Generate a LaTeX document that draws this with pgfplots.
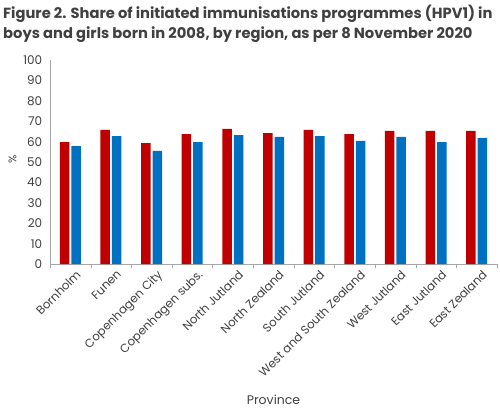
\documentclass[border=0pt]{standalone}
\usepackage{pgfplots}
\pgfplotsset{compat=1.18}
\usepackage{fontspec}
\setmainfont{Poppins}
\definecolor{cred}{HTML}{C00000}
\definecolor{cblue}{HTML}{0070C0}
\definecolor{txt}{HTML}{404040}
\definecolor{axgray}{HTML}{A6A6A6}
\begin{document}
\begin{tikzpicture}
\path[use as bounding box] (0pt,0pt) rectangle (500pt,410pt);
\node[anchor=north west,align=left,text=txt,font=\fontsize{14.7}{20}\selectfont\bfseries,inner sep=0pt] at (3pt,405pt)
 {Figure 2. Share of initiated immunisations programmes (HPV1) in\\boys and girls born in 2008, by region, as per 8 November 2020};
\begin{axis}[
 at={(50pt,146pt)}, anchor=south west,
 scale only axis, width=447pt, height=204pt,
 xmin=-0.5, xmax=10.5, ymin=0, ymax=100,
 axis x line=bottom, axis y line=left,
 axis line style={axgray,-},
 ytick={0,10,...,100},
 ytick style={draw=none},
 xtick={0,...,10},
 major x tick style={draw=none},
 minor xtick={-0.5,0.5,...,10.5},
 minor x tick style={axgray},
 minor tick length=4pt,
 tick align=outside,
 xticklabels={Bornholm,Funen,Copenhagen City,Copenhagen subs.,North Jutland,North Zealand,South Jutland,West and South Zealand,West Jutland,East Jutland,East Zealand},
 xticklabel style={rotate=45,anchor=north east,font=\fontsize{11.8}{13}\selectfont,text=txt,inner sep=1pt,xshift=4pt,yshift=-3pt},
 yticklabel style={font=\fontsize{12}{14}\selectfont,text=txt},
 /pgf/number format/assume math mode=true,
 xlabel={Province}, xlabel style={font=\fontsize{12.5}{14}\selectfont,text=txt,at={(axis description cs:0.5,0)},anchor=center,yshift=-136pt},
 ylabel={\%}, ylabel style={font=\fontsize{11}{13}\selectfont,text=txt,xshift=3pt},
 ybar, bar width=9.5pt,
]
\addplot[fill=cred,draw=none,bar shift=-5.75pt] coordinates {
(0,59.8) (1,65.7) (2,59.3) (3,63.7) (4,66.2) (5,64.2) (6,65.7) (7,63.7) (8,65.2) (9,65.2) (10,65.2)};
\addplot[fill=cblue,draw=none,bar shift=5.75pt] coordinates {
(0,57.8) (1,62.7) (2,55.4) (3,59.8) (4,63.2) (5,62.3) (6,62.7) (7,60.3) (8,62.3) (9,59.8) (10,61.8)};
\end{axis}
\end{tikzpicture}
\end{document}
